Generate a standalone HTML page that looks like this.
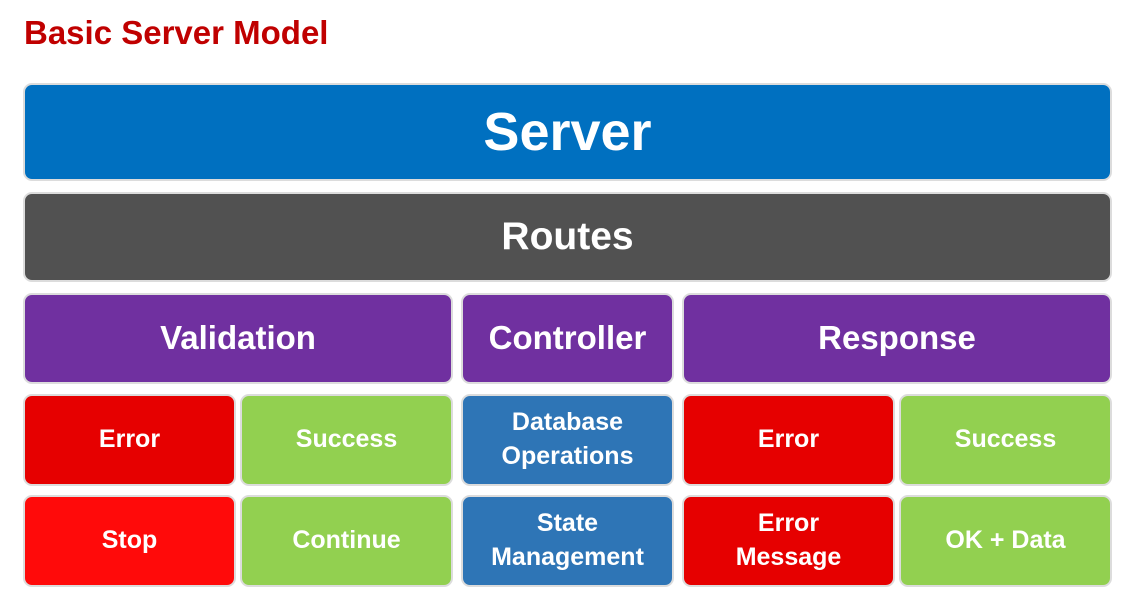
<!DOCTYPE html>
<html><head><style>
body{margin:0;width:1139px;height:608px;background:#fff;position:relative;font-family:"Liberation Sans",sans-serif;overflow:hidden}
.t{position:absolute;left:24px;top:14px;font-size:33px;font-weight:bold;color:#C00000}
.b{position:absolute;box-sizing:border-box;border:2px solid #dcdcdc;border-radius:9px;color:#fff;font-weight:bold;display:flex;align-items:center;justify-content:center;text-align:center;line-height:1.35}
.s{font-size:25px}
</style></head><body>
<div class="t">Basic Server Model</div>
<div class="b" style="left:23px;top:83px;width:1089px;height:98px;background:#0070C0;font-size:54px">Server</div>
<div class="b" style="left:23px;top:192px;width:1089px;height:90px;background:#515151;font-size:39px">Routes</div>
<div class="b" style="left:23px;top:293px;width:430px;height:91px;background:#7030A0;font-size:33px">Validation</div>
<div class="b" style="left:461px;top:293px;width:213px;height:91px;background:#7030A0;font-size:33px">Controller</div>
<div class="b" style="left:682px;top:293px;width:430px;height:91px;background:#7030A0;font-size:33px">Response</div>
<div class="b s" style="left:23px;top:394px;width:213px;height:92px;background:#E60000">Error</div>
<div class="b s" style="left:240px;top:394px;width:213px;height:92px;background:#92D050">Success</div>
<div class="b s" style="left:461px;top:394px;width:213px;height:92px;background:#2E75B6">Database<br>Operations</div>
<div class="b s" style="left:682px;top:394px;width:213px;height:92px;background:#E60000">Error</div>
<div class="b s" style="left:899px;top:394px;width:213px;height:92px;background:#92D050">Success</div>
<div class="b s" style="left:23px;top:495px;width:213px;height:92px;background:#FF0A0A">Stop</div>
<div class="b s" style="left:240px;top:495px;width:213px;height:92px;background:#92D050">Continue</div>
<div class="b s" style="left:461px;top:495px;width:213px;height:92px;background:#2E75B6">State<br>Management</div>
<div class="b s" style="left:682px;top:495px;width:213px;height:92px;background:#E60000">Error<br>Message</div>
<div class="b s" style="left:899px;top:495px;width:213px;height:92px;background:#92D050">OK + Data</div>
</body></html>
